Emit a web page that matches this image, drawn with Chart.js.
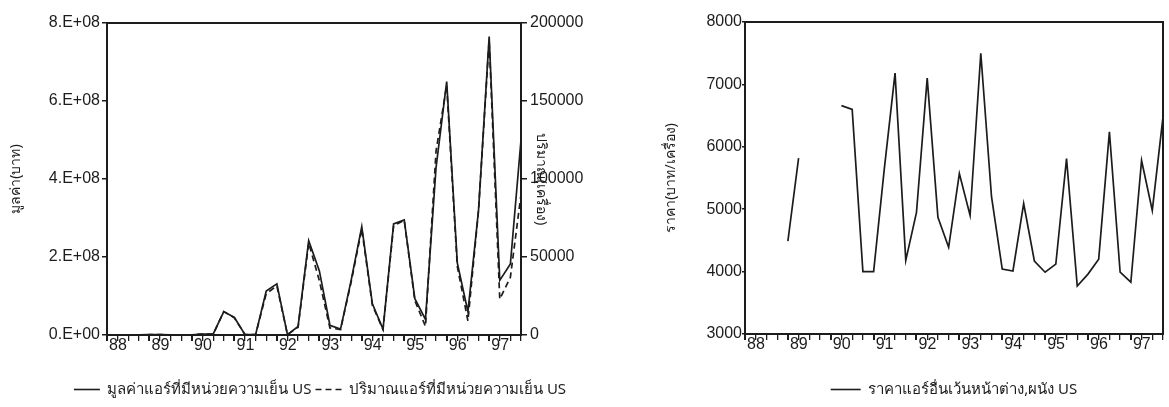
<!DOCTYPE html>
<html>
<head>
<meta charset="utf-8">
<script src="https://cdn.jsdelivr.net/npm/chart.js@4.4.0/dist/chart.umd.min.js"></script>
<style>
  html, body { margin: 0; padding: 0; background: #fff; overflow: hidden; }
  #left { position: absolute; left: 0; top: 0; width: 640px; height: 407px; }
  #right { position: absolute; left: 640px; top: 0; width: 529px; height: 407px; }
</style>
</head>
<body>
<div id="left"><canvas id="valueChart"></canvas></div>
<div id="right"><canvas id="priceChart"></canvas></div>
<script>
// quarterly data 1988Q1 - 1997Q4
const quarters = [
  '1988Q1','1988Q2','1988Q3','1988Q4','1989Q1','1989Q2','1989Q3','1989Q4',
  '1990Q1','1990Q2','1990Q3','1990Q4','1991Q1','1991Q2','1991Q3','1991Q4',
  '1992Q1','1992Q2','1992Q3','1992Q4','1993Q1','1993Q2','1993Q3','1993Q4',
  '1994Q1','1994Q2','1994Q3','1994Q4','1995Q1','1995Q2','1995Q3','1995Q4',
  '1996Q1','1996Q2','1996Q3','1996Q4','1997Q1','1997Q2','1997Q3','1997Q4'
];

// value of air conditioners with cooling unit, US (baht)
const valueUS = [
  3e5, 2e5, 4e5, 3e5, 8e5, 1.2e6, 4e5, 3e5,
  5e5, 2.5e6, 2.0e6, 6.0e7, 4.5e7, 1.0e6, 1.0e6, 1.13e8,
  1.31e8, 1.0e6, 2.2e7, 2.42e8, 1.65e8, 2.5e7, 1.5e7, 1.4e8,
  2.78e8, 8.0e7, 1.5e7, 2.85e8, 2.95e8, 9.3e7, 4.0e7, 4.3e8,
  6.5e8, 1.85e8, 6.0e7, 3.2e8, 7.65e8, 1.4e8, 1.82e8, 5.0e8
];

// quantity (units)
const quantityUS = [
  80, 50, 100, 80, 200, 300, 100, 80,
  120, 600, 500, 15000, 11000, 250, 250, 26500,
  31500, 300, 5000, 59000, 35000, 4500, 3500, 34000,
  68000, 19000, 3500, 70000, 73500, 22000, 5500, 118000,
  160000, 44000, 9000, 80000, 189000, 23000, 37000, 90000
];

// price of other air conditioners (excl. window / wall type), US (baht per unit)
const priceUS = [
  null, null, null, null, 4490, 5820, null, null,
  null, 6660, 6600, 4000, 4000, 5650, 7180, 4180,
  4950, 7100, 4870, 4390, 5570, 4900, 7500, 5200,
  4040, 4010, 5090, 4170, 3990, 4120, 5810, 3770,
  3960, 4200, 6240, 3990, 3830, 5780, 4980, 6480
];

const valueTickLabels = ['0.E+00', '2.E+08', '4.E+08', '6.E+08', '8.E+08'];
const quantityTickLabels = ['0', '50000', '100000', '150000', '200000'];
const priceTickLabels = ['3000', '4000', '5000', '6000', '7000', '8000'];

const INK = '#1c1c1c';
const tickFont = { family: '"Liberation Sans", Arial, sans-serif', size: 16 };
const thaiFont = { family: '"Noto Sans", "DejaVu Sans", sans-serif', size: 15 };
const titleFont = { family: '"Noto Sans", "DejaVu Sans", sans-serif', size: 14 };

// box around the plot area
const frame = {
  id: 'frame',
  afterDatasetsDraw(chart) {
    const { ctx, chartArea: a } = chart;
    ctx.save();
    ctx.strokeStyle = INK;
    ctx.lineWidth = 2;
    ctx.strokeRect(a.left, a.top, a.right - a.left, a.bottom - a.top);
    ctx.restore();
  }
};

// legend samples: short lines that keep each dataset's dash pattern
function lineLabels(chart) {
  const items = Chart.defaults.plugins.legend.labels.generateLabels(chart);
  items.forEach((it, i) => {
    const ds = chart.data.datasets[i];
    it.lineDash = ds.borderDash || [];
    it.strokeStyle = INK;
    it.fillStyle = INK;
    it.lineWidth = 1.6;
    it.pointStyle = 'line';
  });
  return items;
}

function yearTick(val, idx) {
  const q = quarters[idx];
  return q.endsWith('Q1') ? q.slice(2, 4) : '';
}

function xAxis(height) {
  return {
    type: 'category',
    afterFit: (s) => { s.height = height; },
    border: { display: true, color: INK, width: 2 },
    grid: {
      drawOnChartArea: false,
      drawTicks: true,
      tickLength: 6,
      color: INK,
      lineWidth: (c) => (c.index % 4 === 0 ? 2 : 1.3)
    },
    ticks: {
      autoSkip: false,
      maxRotation: 0,
      minRotation: 0,
      labelOffset: 11,
      padding: -5,
      color: INK,
      font: tickFont,
      callback: yearTick
    }
  };
}

Chart.defaults.animation = false;

new Chart(document.getElementById('valueChart'), {
  type: 'line',
  data: {
    labels: quarters,
    datasets: [
      {
        label: 'มูลค่าแอร์ที่มีหน่วยความเย็น US',
        data: valueUS,
        yAxisID: 'y',
        borderColor: INK,
        borderWidth: 1.7,
        pointRadius: 0,
        tension: 0
      },
      {
        label: 'ปริมาณแอร์ที่มีหน่วยความเย็น US',
        data: quantityUS,
        yAxisID: 'y1',
        borderColor: INK,
        borderWidth: 1.7,
        borderDash: [6, 4],
        pointRadius: 0,
        tension: 0
      }
    ]
  },
  options: {
    responsive: true,
    maintainAspectRatio: false,
    layout: { padding: { top: 23, left: 0, right: 0, bottom: 0 } },
    plugins: {
      tooltip: { enabled: false },
      legend: {
        position: 'bottom',
        labels: {
          usePointStyle: true,
          pointStyle: 'line',
          pointStyleWidth: 26,
          padding: 4,
          color: INK,
          font: thaiFont,
          generateLabels: lineLabels
        }
      }
    },
    scales: {
      x: xAxis(43),
      y: {
        position: 'left',
        min: 0,
        max: 8e8,
        afterFit: (s) => { s.width = 107; },
        border: { display: true, color: INK, width: 2 },
        grid: { drawOnChartArea: false, tickLength: 5, color: INK, lineWidth: 1.5 },
        ticks: {
          stepSize: 2e8,
          padding: 2,
          color: INK,
          font: tickFont,
          callback: (v, i) => valueTickLabels[i]
        },
        title: {
          display: true,
          text: 'มูลค่า(บาท)',
          color: INK,
          font: titleFont,
          padding: { top: 8, bottom: 0 }
        }
      },
      y1: {
        position: 'right',
        min: 0,
        max: 200000,
        afterFit: (s) => { s.width = 119; },
        border: { display: true, color: INK, width: 2 },
        grid: { drawOnChartArea: false, tickLength: 6, color: INK, lineWidth: 1.5 },
        ticks: {
          stepSize: 50000,
          padding: 3,
          color: INK,
          font: tickFont,
          callback: (v, i) => quantityTickLabels[i]
        },
        title: {
          display: true,
          text: 'ปริมาณ(เครื่อง)',
          color: INK,
          font: titleFont,
          padding: { top: 91, bottom: 0 }
        }
      }
    }
  },
  plugins: [frame]
});

new Chart(document.getElementById('priceChart'), {
  type: 'line',
  data: {
    labels: quarters,
    datasets: [
      {
        label: 'ราคาแอร์อื่นเว้นหน้าต่าง,ผนัง US',
        data: priceUS,
        borderColor: INK,
        borderWidth: 1.7,
        pointRadius: 0,
        tension: 0,
        spanGaps: false
      }
    ]
  },
  options: {
    responsive: true,
    maintainAspectRatio: false,
    layout: { padding: { top: 22, left: 0, right: 6, bottom: 0 } },
    plugins: {
      tooltip: { enabled: false },
      legend: {
        position: 'bottom',
        fullSize: false,
        labels: {
          usePointStyle: true,
          pointStyle: 'line',
          pointStyleWidth: 30,
          padding: 4,
          color: INK,
          font: thaiFont,
          generateLabels: lineLabels
        }
      }
    },
    scales: {
      x: xAxis(44),
      y: {
        position: 'left',
        min: 3000,
        max: 8000,
        afterFit: (s) => { s.width = 105; },
        border: { display: true, color: INK, width: 2 },
        grid: { drawOnChartArea: false, tickLength: 3, color: INK, lineWidth: 1.5 },
        ticks: {
          stepSize: 1000,
          padding: 0,
          color: INK,
          font: tickFont,
          callback: (v, i) => priceTickLabels[i]
        },
        title: {
          display: true,
          text: 'ราคา(บาท/เครื่อง)',
          color: INK,
          font: titleFont,
          padding: { top: 23, bottom: 0 }
        }
      }
    }
  },
  plugins: [frame]
});
</script>
</body>
</html>
